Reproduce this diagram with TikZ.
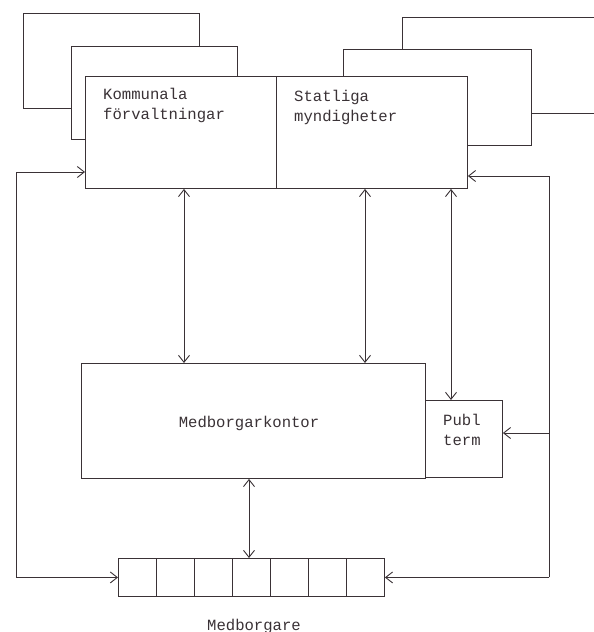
\documentclass[tikz,border=0pt]{standalone}
\usepackage{fontspec}
\newfontfamily\tw{Liberation Mono}
\usetikzlibrary{arrows.meta,calc}
\definecolor{ink}{HTML}{3A3236}
\begin{document}
\begin{tikzpicture}[x=1pt,y=-1pt,
  ln/.style={draw=ink,line width=0.9pt},
  box/.style={ln,rectangle,inner sep=0pt,anchor=north west},
  cell/.style={box,minimum width=38pt,minimum height=38pt},
  lbl/.style={inner sep=0pt,text=ink,font=\tw\fontsize{15.6}{20}\selectfont,align=left},
  tip/.style={Straight Barb[length=7pt,width=11pt,line width=1pt]},
  arr/.style={ln,-{Straight Barb[length=7pt,width=11pt]}},
  darr/.style={ln,{Straight Barb[length=7pt,width=11pt]}-{Straight Barb[length=7pt,width=11pt]}}]
\useasboundingbox (0,0) rectangle (594,632);
\fill[white] (0,0) rectangle (594,632);
% stacked background boxes (left stack)
\draw[ln] (71,108) -- (23,108) -- (23,13) -- (199,13) -- (199,46);
\draw[ln] (85,139) -- (71,139) -- (71,46) -- (237,46) -- (237,76);
% stacked background boxes (right stack)
\draw[ln] (343,76) -- (343,49) -- (531,49) -- (531,145) -- (467,145);
\draw[ln] (402,49) -- (402,17) -- (594,17);
\draw[ln] (531,113) -- (594,113);
% main nodes
\node[box,minimum width=191pt,minimum height=112pt] (kom) at (85,76) {};
\node[box,minimum width=191pt,minimum height=112pt] (sta) at (276,76) {};
\node[box,minimum width=344pt,minimum height=115pt] (mk) at (81,363) {};
\node[box,minimum width=77pt,minimum height=77pt] (pt) at (425,400) {};
\foreach \i in {1,...,7} \node[cell] (c\i) at ({118+38*(\i-1)},558) {};
% labels
\node[lbl,anchor=base west] (tkom) at (103,119) {Kommunala\\förvaltningar};
\node[lbl,anchor=base west] (tsta) at (294,121) {Statliga\\myndigheter};
\node[lbl,anchor=base] (tmk) at (249,427) {Medborgarkontor};
\node[lbl,anchor=base west] (tpt) at (443,445) {Publ\\term};
\node[lbl,anchor=base] (tmb) at (254,630) {Medborgare};
% helper coordinates
\coordinate (x1) at (184,0);
\coordinate (x2) at (365,0);
\coordinate (x3) at (451,0);
\coordinate (x4) at (249,0);
\coordinate (lx) at (16,0);
\coordinate (rx) at (549,0);
\coordinate (ky) at (0,172);
\coordinate (sy) at (0,176);
\coordinate (py) at (0,433);
% vertical links
\draw[darr] (kom.south -| x1) -- (mk.north -| x1);
\draw[darr] (sta.south -| x2) -- (mk.north -| x2);
\draw[darr] (sta.south -| x3) -- (pt.north -| x3);
\draw[darr] (mk.south -| x4) -- (c4.north -| x4);
% left loop
\draw[arr] (lx |- c1.west) |- (kom.west |- ky);
\draw[arr] (lx |- c1.west) -- (c1.west);
% right loop
\draw[arr] (rx |- c7.east) |- (sta.east |- sy);
\draw[arr] (rx |- py) -- (pt.east |- py);
\draw[arr] (rx |- c7.east) -- (c7.east);
\end{tikzpicture}
\end{document}
